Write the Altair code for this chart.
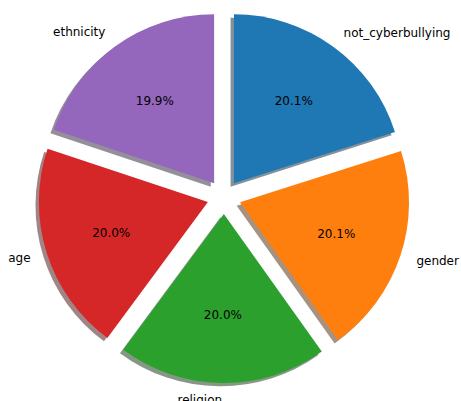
import altair as alt
import pandas as pd

# Data (clockwise from 12 o'clock)
categories = ["not_cyberbullying", "gender", "religion", "age", "ethnicity"]
shares = [20.1, 20.1, 20.0, 20.0, 19.9]
colors = ["#1f77b4", "#ff7f0e", "#2ca02c", "#d62728", "#9467bd"]
shadow_colors = ["#092436", "#4d2604", "#0d300d", "#400c0c", "#2c1f39"]

CX, CY, R = 224, 197, 169
EXPLODE = 0.1
LABEL_DIST = 1.1
PCT_DIST = 0.6
SHADOW = 0.02
FONT = "DejaVu Sans"
FS = 12

df = pd.DataFrame({
    "category": categories,
    "share": shares,
    "order": list(range(len(categories))),
    "shadow": shadow_colors,
})

base = (
    alt.Chart(df)
    .transform_joinaggregate(total="sum(share)")
    .transform_window(cum="sum(share)", sort=[alt.SortField("order")], frame=[None, 0])
    .transform_calculate(
        t0="(datum.cum - datum.share) / datum.total * 2 * PI",
        t1="datum.cum / datum.total * 2 * PI",
        pct="datum.share / datum.total",
    )
    .transform_calculate(mid="(datum.t0 + datum.t1) / 2")
    .transform_calculate(
        cx=f"{CX} + {EXPLODE * R} * sin(datum.mid)",
        cy=f"{CY} - {EXPLODE * R} * cos(datum.mid)",
    )
    .transform_calculate(
        sx=f"datum.cx - {SHADOW * R}",
        sy=f"datum.cy + {SHADOW * R}",
        px=f"datum.cx + {PCT_DIST * R} * sin(datum.mid)",
        py=f"datum.cy - {PCT_DIST * R} * cos(datum.mid)",
        lx=f"datum.cx + {LABEL_DIST * R} * sin(datum.mid)",
        ly=f"datum.cy - {LABEL_DIST * R} * cos(datum.mid)",
        side="sin(datum.mid) > 0 ? 1 : 0",
    )
)

theta = alt.Theta("t0:Q", scale=None, stack=None)
theta2 = alt.Theta2("t1:Q")

shadow = base.mark_arc(radius=R, opacity=0.5).encode(
    x=alt.X("sx:Q", scale=None, axis=None),
    y=alt.Y("sy:Q", scale=None, axis=None),
    theta=theta,
    theta2=theta2,
    fill=alt.Fill("shadow:N", scale=None, legend=None),
)

wedges = base.mark_arc(radius=R).encode(
    x=alt.X("cx:Q", scale=None, axis=None),
    y=alt.Y("cy:Q", scale=None, axis=None),
    theta=theta,
    theta2=theta2,
    fill=alt.Fill("category:N", scale=alt.Scale(domain=categories, range=colors), legend=None),
)

pct_text = base.mark_text(font=FONT, fontSize=FS, color="black", align="center", baseline="middle").encode(
    x=alt.X("px:Q", scale=None, axis=None),
    y=alt.Y("py:Q", scale=None, axis=None),
    text=alt.Text("pct:Q", format=".1%"),
)

labels_right = base.transform_filter("datum.side == 1").mark_text(
    font=FONT, fontSize=FS, color="black", align="left", baseline="middle"
).encode(
    x=alt.X("lx:Q", scale=None, axis=None),
    y=alt.Y("ly:Q", scale=None, axis=None),
    text="category:N",
)

labels_left = base.transform_filter("datum.side == 0").mark_text(
    font=FONT, fontSize=FS, color="black", align="right", baseline="middle"
).encode(
    x=alt.X("lx:Q", scale=None, axis=None),
    y=alt.Y("ly:Q", scale=None, axis=None),
    text="category:N",
)

chart = (
    alt.layer(shadow, wedges, pct_text, labels_right, labels_left)
    .properties(width=461, height=401, autosize=alt.AutoSizeParams(type="none"), padding=0)
    .configure_view(strokeWidth=0)
)

chart.save("out.html", embed_options={"renderer": "svg", "actions": False})
